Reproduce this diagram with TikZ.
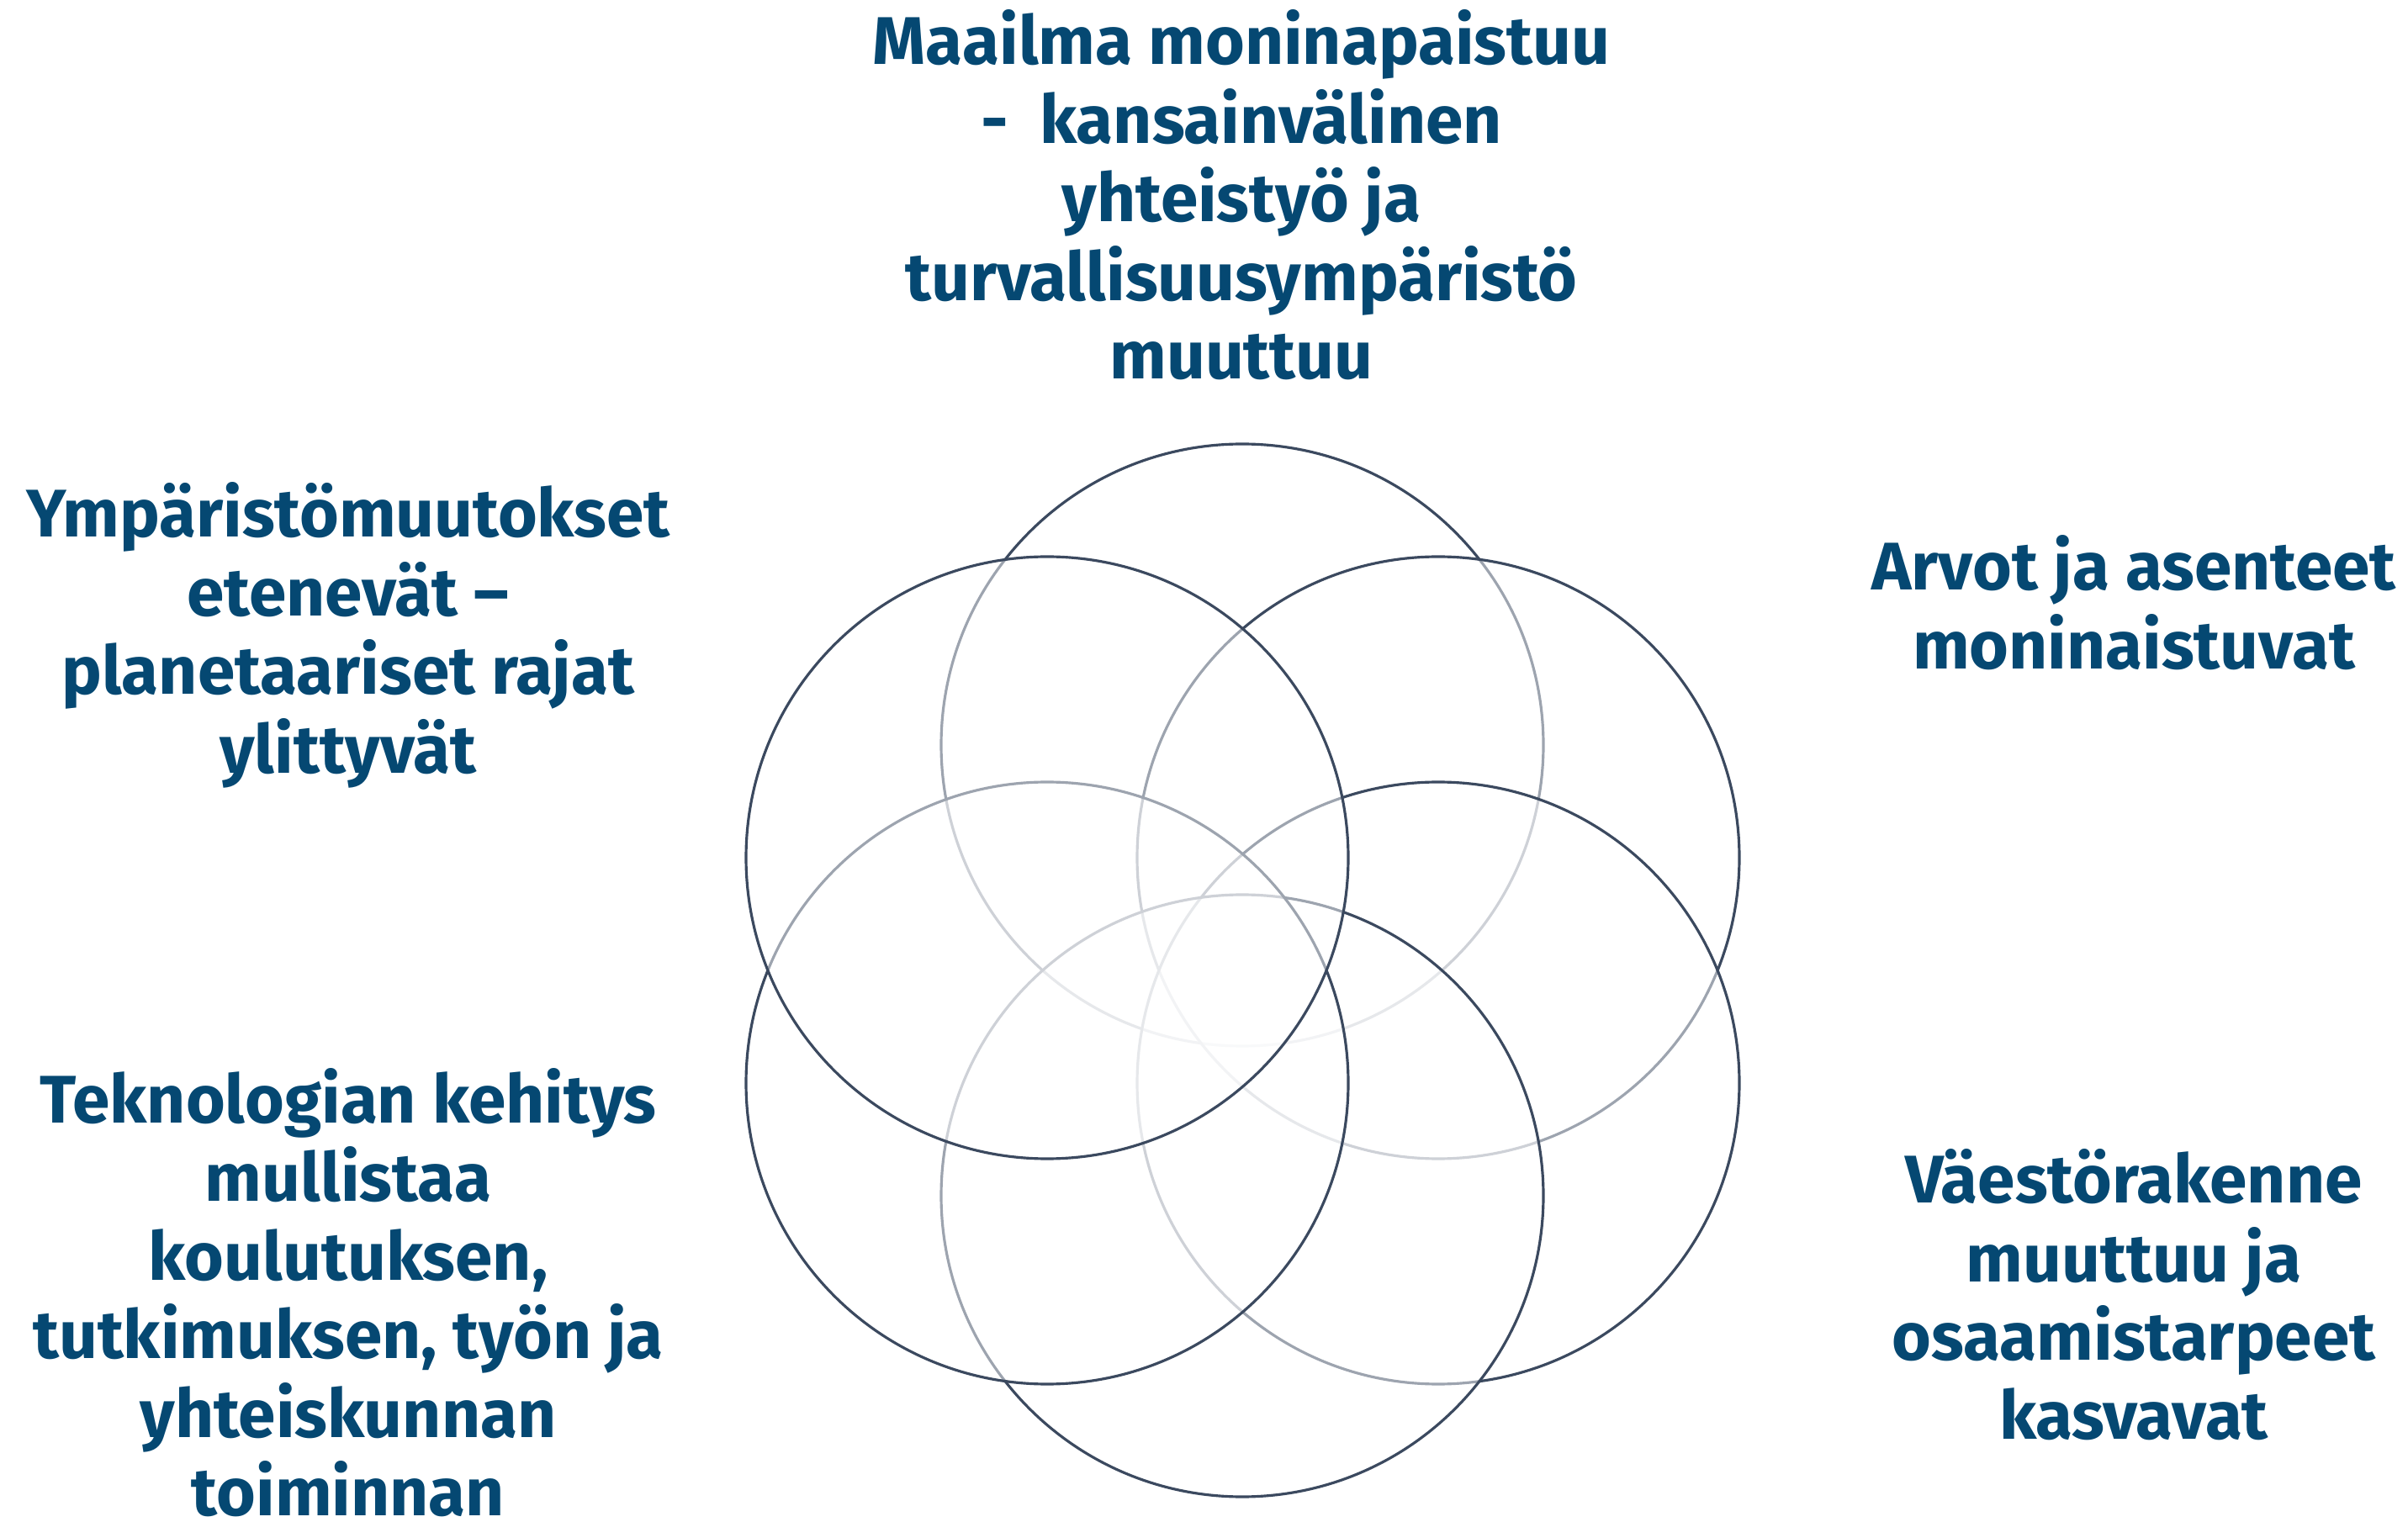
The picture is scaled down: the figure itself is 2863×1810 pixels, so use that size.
\documentclass[tikz,border=0pt]{standalone}
\usepackage{fontspec}
\setmainfont{Fira Sans}
\definecolor{ringgray}{RGB}{59,73,95}
\definecolor{trendblue}{HTML}{054872}
\newcommand{\topstrut}{\rule{0pt}{20pt}}

\begin{document}
\begin{tikzpicture}[x=0.01cm, y=0.01cm]
\tikzset{ring/.style={draw=ringgray, line width=0.9pt, fill=white, fill opacity=0.5},
  trend/.style={anchor=north, inner sep=0pt, align=center, text=trendblue,
    font=\fontsize{22.8}{26.6}\selectfont\bfseries}}
\useasboundingbox (0,0) rectangle (2863,-1810);
% centres of the six rings
\coordinate (cT) at (1477,-886);
\coordinate (cUR) at (1710,-1020);
\coordinate (cLR) at (1710,-1288);
\coordinate (cB) at (1477,-1422);
\coordinate (cLL) at (1245,-1288);
\coordinate (cUL) at (1245,-1020);
% each ring veils the ones drawn before it
\draw [ring] (cT) circle (358);
\draw [ring] (cUR) circle (358);
\draw [ring] (cLR) circle (358);
\draw [ring] (cB) circle (358);
\draw [ring] (cLL) circle (358);
\draw [ring] (cUL) circle (358);
% the five trends
\node [trend] (world) at (1476,-5.7) {\topstrut Maailma moninapaistuu\\-\ \ kansainvälinen\\yhteistyö ja\\turvallisuusympäristö\\muuttuu};
\node [trend] (environment) at (414,-567.7) {\topstrut Ympäristömuutokset\\etenevät –\\planetaariset rajat\\ylittyvät};
\node [trend] (values) at (2537,-630.7) {\topstrut Arvot ja asenteet\\moninaistuvat};
\node [trend] (technology) at (414,-1264) {\topstrut Teknologian kehitys\\mullistaa\\koulutuksen,\\tutkimuksen, työn ja\\yhteiskunnan\\toiminnan};
\node [trend] (population) at (2537,-1359.7) {\topstrut Väestörakenne\\muuttuu ja\\osaamistarpeet\\kasvavat};
\end{tikzpicture}
\end{document}
